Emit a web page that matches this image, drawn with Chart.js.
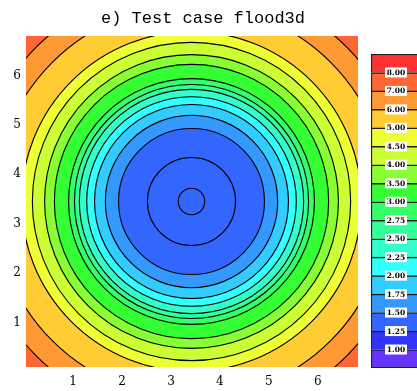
<!DOCTYPE html>
<html>
<head>
<meta charset="utf-8">
<script src="https://cdn.jsdelivr.net/npm/chart.js@4"></script>
<style>
body{margin:0;background:#fff;overflow:hidden;width:417px;height:391px;position:relative}
#plot{position:absolute;left:0;top:0}
#barra{position:absolute;left:371px;top:54px}
</style>
</head>
<body>
<canvas id="plot" width="417" height="391"></canvas>
<canvas id="barra" width="60" height="314"></canvas>
<script>
const titulo = "e) Test case flood3d";

const levels = [1.00,1.25,1.50,1.75,2.00,2.25,2.50,2.75,3.00,3.50,4.00,4.50,5.00,6.00,7.00,8.00];

const colors = ['#6633ff','#3333ff','#3366ff','#3399ff','#33ccff','#33ffff','#33ffcc','#33ff99',
'#33ff66','#33ff33','#88ff33','#ccff33','#eeff33','#ffcc33','#ff9933','#ff6633','#ff3333'];

// distance from the centre where each level is crossed (null = not in the picture)
const radii = [null,null,1.49,1.76,1.98,2.14,2.29,2.39,2.51,2.80,3.00,3.25,3.47,4.02,4.47,null];

// contour lines inside the central band
const extraLines = [0.27,0.90];

const centre = [3.42,3.45];

const xTicks = [1,2,3,4,5,6];
const yTicks = [1,2,3,4,5,6];


let rings = [];

levels.forEach((lv,i)=>{
if(radii[i]!==null) rings.push({r:radii[i], fill:colors[i]});
});

extraLines.forEach(r=>rings.push({r:r, fill:'rgba(0,0,0,0)'}));

rings.sort((a,b)=>a.r-b.r);

const datasets = rings.map(ring=>({
data:[{x:centre[0], y:centre[1], rad:ring.r}],
pointBackgroundColor:ring.fill,
pointBorderColor:'#000',
pointBorderWidth:1.1,
clip:0,
pointRadius:ctx=>{
if(!ctx.chart.chartArea || !ctx.raw) return 0;
const s = ctx.chart.scales.x;
return Math.abs(s.getPixelForValue(centre[0]+ctx.raw.rad) - s.getPixelForValue(centre[0]));
}
}));


// band outside the last measured ring
const fundo = {
id:'fundo',
beforeDatasetsDraw(chart){
const a = chart.chartArea, ctx = chart.ctx;
let last = radii.length-1;
while(radii[last]===null) last--;
ctx.save();
ctx.fillStyle = colors[last+1];
ctx.fillRect(a.left, a.top, a.right-a.left, a.bottom-a.top);
ctx.restore();
}
};


new Chart(document.getElementById("plot"), {

type:"scatter",

data:{datasets},

options:{
responsive:false,
animation:false,
events:[],
layout:{autoPadding:false,padding:{left:0,right:11,top:0,bottom:0}},
plugins:{
legend:{display:false},
tooltip:{enabled:false},
title:{
display:true,
text:titulo,
color:'#000',
font:{family:'Liberation Mono',size:17,weight:'normal'},
padding:{top:8,bottom:7.6}
}
},
scales:{
x:{
type:'linear',min:0.04,max:6.82,
grid:{display:false,drawTicks:false},
border:{display:false},
ticks:{color:'#000',font:{family:'DejaVu Serif',size:12},padding:8,maxRotation:0},
afterBuildTicks(s){s.ticks = xTicks.map(v=>({value:v}));},
afterFit(s){s.height = 24;}
},
y:{
type:'linear',min:0.1,max:6.8,
grid:{display:false,drawTicks:false},
border:{display:false},
ticks:{color:'#000',font:{family:'DejaVu Serif',size:12},padding:5},
afterBuildTicks(s){s.ticks = yTicks.map(v=>({value:v}));},
afterFit(s){s.width = 26;}
},
y2:{
type:'linear',position:'right',display:true,
grid:{display:false},
border:{display:false},
ticks:{display:false},
afterFit(s){s.width = 48;}
}
}
},

plugins:[fundo]

});


// label boxes on the colour bar
const rotulos = {
id:'rotulos',
afterDatasetsDraw(chart){
const ctx = chart.ctx, y = chart.scales.y, a = chart.chartArea;
ctx.save();
ctx.font = 'bold 7.5px "DejaVu Serif"';
ctx.textAlign = 'center';
ctx.textBaseline = 'middle';
levels.forEach((lv,i)=>{
const py = y.getPixelForValue(i+1);
const px = a.left+25;
ctx.fillStyle = '#fff';
ctx.fillRect(px-11, py-5, 22, 10);
ctx.fillStyle = '#000';
ctx.fillText(lv.toFixed(2), px, py+0.5);
});
ctx.restore();
}
};


new Chart(document.getElementById("barra"), {

type:"bar",

data:{
labels:[''],
datasets:colors.map((c,i)=>({
data:[1],
backgroundColor:c,
borderColor:'#222',
borderWidth:{top:1.5,left:1.5,right:1,bottom:i===0?1.5:0},
borderSkipped:false,
barPercentage:1,
categoryPercentage:1
}))
},

options:{
responsive:false,
animation:false,
events:[],
plugins:{legend:{display:false},tooltip:{enabled:false}},
scales:{
x:{stacked:true,display:false},
y:{stacked:true,display:false,min:0,max:colors.length}
}
},

plugins:[rotulos]

});
</script>
</body>
</html>
